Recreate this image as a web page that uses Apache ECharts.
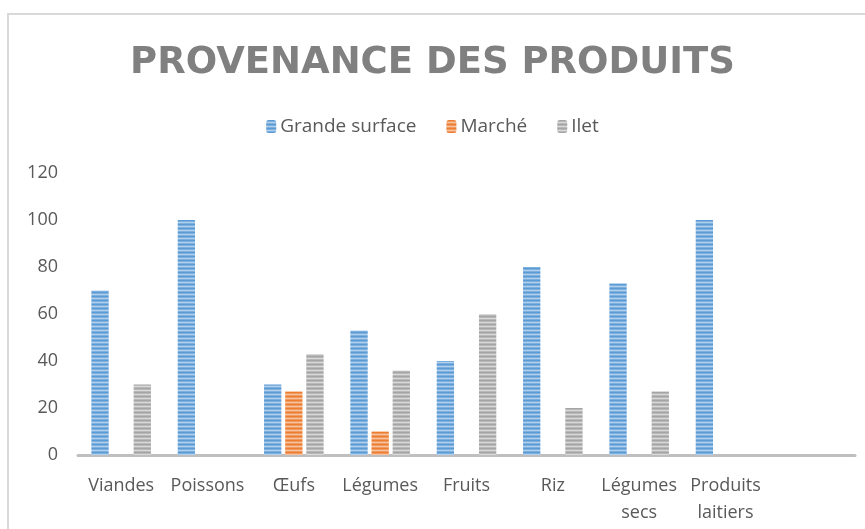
<!DOCTYPE html>
<html>
<head>
<meta charset="utf-8">
<script src="https://cdn.jsdelivr.net/npm/echarts@6/dist/echarts.min.js"></script>
<style>
  html, body { margin: 0; padding: 0; background: #fff; }
  #chart { width: 865px; height: 529px; }
</style>
</head>
<body>
<div id="chart"></div>
<script>
const categories = ["Viandes", "Poissons", "Œufs", "Légumes", "Fruits", "Riz", "Légumes\nsecs", "Produits\nlaitiers", ""];
const grandeSurface = [70, 100, 30, 53, 40, 80, 73, 100, null];
const marche = [null, null, 27, 10, null, null, null, null, null];
const ilet = [30, null, 43, 36, 60, 20, 27, null, null];
const yTicks = { min: 0, max: 120, step: 20 };

// horizontal stripes like the original fill
function stripes(dark, mid, light) {
  const c = document.createElement("canvas");
  c.width = 4;
  c.height = 4;
  const ctx = c.getContext("2d");
  [dark, mid, light, mid].forEach((col, i) => {
    ctx.fillStyle = col;
    ctx.fillRect(0, i, 4, 1);
  });
  return { image: c, repeat: "repeat" };
}

const blue = stripes("#5b9bd5", "#7eb0de", "#b3cfee");
const orange = stripes("#ed7d31", "#f19a60", "#f7c4a3");
const gray = stripes("#a5a5a5", "#b8b8b8", "#d9d9d9");

const chart = echarts.init(document.getElementById("chart"));
const font = "'Open Sans', sans-serif";

chart.setOption({
  backgroundColor: "#fff",
  animation: false,
  textStyle: { fontFamily: font },
  graphic: [
    {
      type: "rect",
      shape: { x: 8, y: 14, width: 900, height: 600 },
      style: { fill: "none", stroke: "#d9d9d9", lineWidth: 2 },
      silent: true,
    },
  ],
  title: {
    text: "PROVENANCE DES PRODUITS",
    left: "center",
    top: 40,
    textStyle: { fontFamily: "'DejaVu Sans', sans-serif", fontSize: 37, fontWeight: "bold", color: "#808080" },
  },
  legend: {
    top: 112,
    left: "center",
    itemWidth: 10,
    itemHeight: 13,
    itemGap: 30,
    textStyle: { fontFamily: font, fontSize: 19, color: "#595959", padding: [0, 0, 0, -1] },
    data: ["Grande surface", "Marché", "Ilet"],
  },
  grid: { left: 78, right: 10, top: 173, bottom: 74 },
  xAxis: {
    type: "category",
    data: categories,
    axisTick: { show: false },
    axisLine: { lineStyle: { color: "#bfbfbf", width: 3 } },
    axisLabel: { interval: 0, color: "#595959", fontSize: 18, margin: 17, lineHeight: 27 },
  },
  yAxis: {
    type: "value",
    min: yTicks.min,
    max: yTicks.max,
    interval: yTicks.step,
    axisLine: { show: false },
    axisTick: { show: false },
    splitLine: { show: false },
    axisLabel: { color: "#595959", fontSize: 18, margin: 20 },
  },
  series: [
    { name: "Grande surface", type: "bar", data: grandeSurface, itemStyle: { color: blue }, barGap: "22%", barCategoryGap: "31%" },
    { name: "Marché", type: "bar", data: marche, itemStyle: { color: orange } },
    { name: "Ilet", type: "bar", data: ilet, itemStyle: { color: gray } },
  ],
});
</script>
</body>
</html>
